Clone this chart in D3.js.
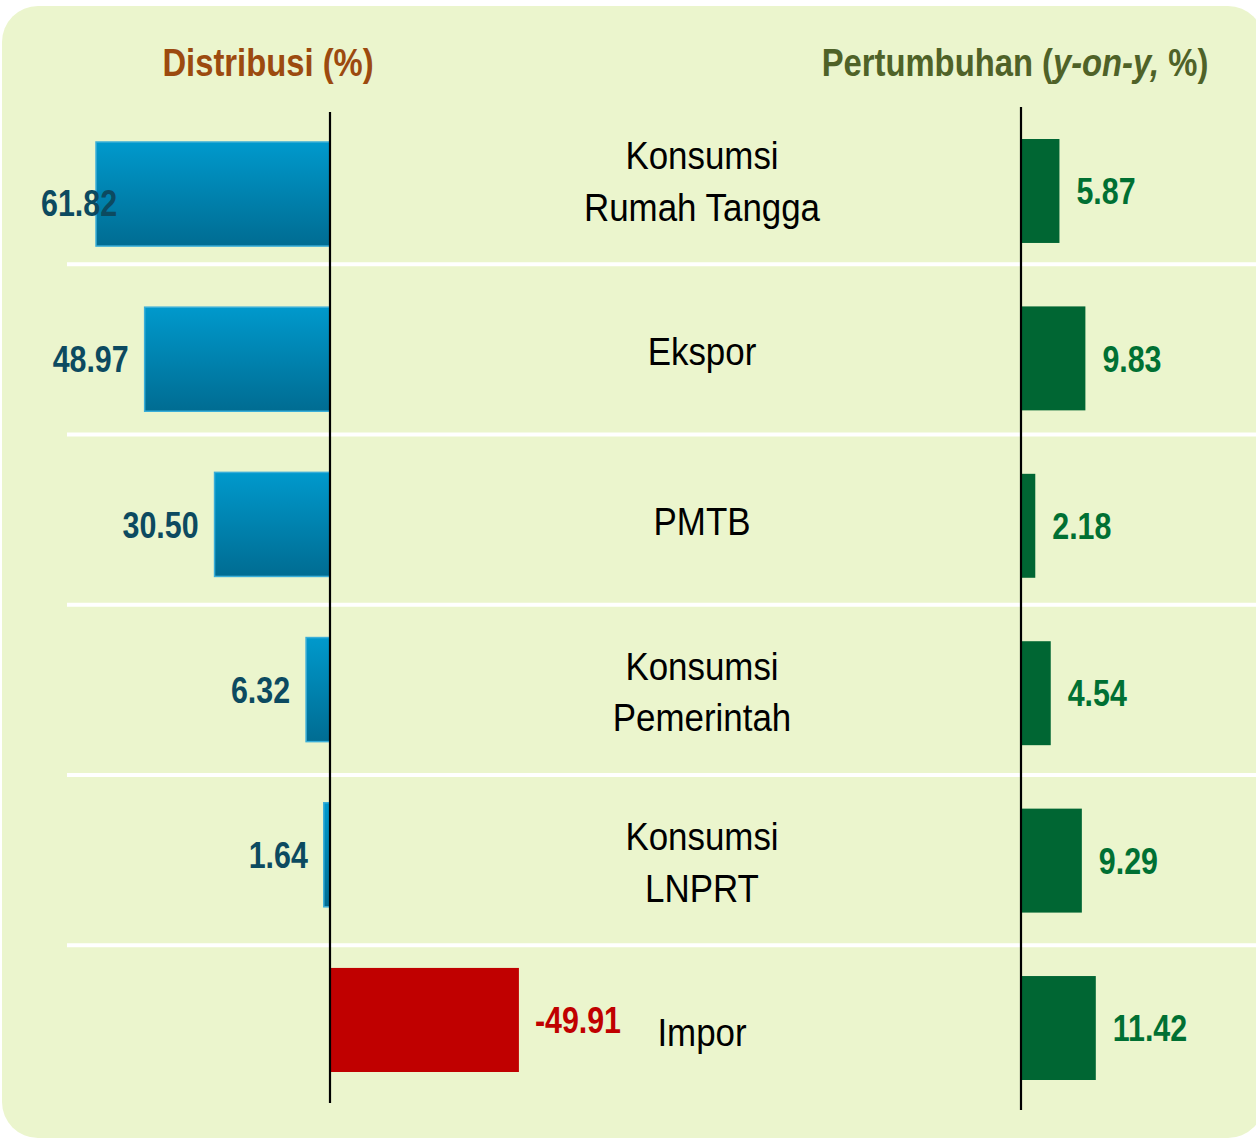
<!DOCTYPE html>
<html>
<head>
<meta charset="utf-8">
<script src="https://cdn.jsdelivr.net/npm/d3@7"></script>
<style>
  body { margin: 0; background: #ffffff; }
  svg { display: block; }
</style>
</head>
<body>
<svg id="chart"></svg>
<script>
// categories (top to bottom) and their values
const categories = ["Konsumsi Rumah Tangga", "Ekspor", "PMTB", "Konsumsi Pemerintah", "Konsumsi LNPRT", "Impor"];
const categoryLines = [["Konsumsi", "Rumah Tangga"], ["Ekspor"], ["PMTB"], ["Konsumsi", "Pemerintah"], ["Konsumsi", "LNPRT"], ["Impor"]];
const distribusi = [61.82, 48.97, 30.50, 6.32, 1.64, -49.91];
const pertumbuhan = [5.87, 9.83, 2.18, 4.54, 9.29, 11.42];
const distribusiLabels = ["61.82", "48.97", "30.50", "6.32", "1.64", "-49.91"];
const pertumbuhanLabels = ["5.87", "9.83", "2.18", "4.54", "9.29", "11.42"];

const width = 1256, height = 1140;
const font = "'Liberation Sans', Arial, sans-serif";
// narrow look: Liberation Sans squeezed horizontally
const numSize = 37.5, numScale = 0.81;
const catSize = 39, catScale = 0.895;
const titleSize = 39.5, titleScale = 0.83;

const svg = d3.select("#chart").attr("width", width).attr("height", height);

// gradient for distribution bars
const defs = svg.append("defs");
const grad = defs.append("linearGradient")
  .attr("id", "blueGrad")
  .attr("x1", 0).attr("y1", 0).attr("x2", 0).attr("y2", 1);
grad.append("stop").attr("offset", "0%").attr("stop-color", "#0099cc");
grad.append("stop").attr("offset", "100%").attr("stop-color", "#006c92");

// panel background
svg.append("rect")
  .attr("x", 2).attr("y", 6)
  .attr("width", 1262).attr("height", 1132)
  .attr("rx", 36).attr("ry", 36)
  .attr("fill", "#ebf5cd");

// scales
const xLeft = d3.scaleLinear().domain([-60, 70]).range([330 + 60 * 3.785, 330 - 70 * 3.785]);
const xRight = d3.scaleLinear().domain([0, 12]).range([1021, 1021 + 12 * 6.55]);

const yRows = d3.scaleBand().domain(categories).range([94, 1115.5]);
const yLeft = d3.scaleBand().domain(categories).range([142, 1072]).paddingInner(0.37);
const yRight = d3.scaleBand().domain(categories).range([139, 1080]).paddingInner(0.379);

function place(x, y, s) {
  return "translate(" + x + "," + y + ") scale(" + s + ",1)";
}

// white row separators
svg.append("g")
  .selectAll("line")
  .data(categories.slice(1))
  .join("line")
  .attr("x1", 67).attr("x2", width)
  .attr("y1", d => yRows(d)).attr("y2", d => yRows(d))
  .attr("stroke", "#ffffff")
  .attr("stroke-width", 4);

// titles
svg.append("text")
  .attr("transform", place(268, 76, titleScale))
  .attr("text-anchor", "middle")
  .attr("font-family", font).attr("font-weight", "bold")
  .attr("font-size", titleSize).attr("fill", "#9c4a0f")
  .text("Distribusi (%)");

const t2 = svg.append("text")
  .attr("transform", place(1015, 76, titleScale))
  .attr("text-anchor", "middle")
  .attr("font-family", font).attr("font-weight", "bold")
  .attr("font-size", titleSize).attr("fill", "#4f6228");
t2.append("tspan").text("Pertumbuhan (");
t2.append("tspan").attr("font-style", "italic").text("y-on-y,");
t2.append("tspan").text(" %)");

const rows = categories.map((c, i) => ({
  cat: c, dist: distribusi[i], growth: pertumbuhan[i],
  distLabel: distribusiLabels[i], growthLabel: pertumbuhanLabels[i], lines: categoryLines[i]
}));

// distribution bars
svg.append("g")
  .selectAll("rect")
  .data(rows)
  .join("rect")
  .attr("x", d => Math.min(xLeft(d.dist), xLeft(0)))
  .attr("y", d => yLeft(d.cat))
  .attr("width", d => Math.abs(xLeft(d.dist) - xLeft(0)))
  .attr("height", yLeft.bandwidth())
  .attr("fill", d => d.dist < 0 ? "#c00000" : "url(#blueGrad)")
  .attr("stroke", d => d.dist < 0 ? "none" : "#3aaed8")
  .attr("stroke-width", 1.5);

// distribution labels
svg.append("g")
  .selectAll("text")
  .data(rows)
  .join("text")
  .attr("font-family", font).attr("font-weight", "bold")
  .attr("font-size", numSize)
  .attr("fill", d => d.dist < 0 ? "#c00000" : "#0c4a60")
  .attr("text-anchor", d => d.dist < 0 ? "start" : "end")
  .attr("dy", "0.35em")
  .text(d => d.distLabel)
  .each(function(d) {
    const y = yLeft(d.cat) + yLeft.bandwidth() / 2;
    let x = d.dist < 0 ? xLeft(d.dist) + 16 : xLeft(d.dist) - 16;
    let dy = 0;
    if (d.dist >= 0) {
      // keep labels inside the panel
      const w = this.getComputedTextLength() * numScale;
      if (x - w < 41) { x = 41 + w; dy = 9; }
    }
    d3.select(this).attr("transform", place(x, y + dy, numScale));
  });

// left axis line
svg.append("line")
  .attr("x1", xLeft(0)).attr("x2", xLeft(0))
  .attr("y1", 112).attr("y2", 1103)
  .attr("stroke", "#000").attr("stroke-width", 2.2);

// growth bars
svg.append("g")
  .selectAll("rect")
  .data(rows)
  .join("rect")
  .attr("x", xRight(0))
  .attr("y", d => yRight(d.cat))
  .attr("width", d => xRight(d.growth) - xRight(0))
  .attr("height", yRight.bandwidth())
  .attr("fill", "#006633");

svg.append("g")
  .selectAll("text")
  .data(rows)
  .join("text")
  .attr("transform", d => place(xRight(d.growth) + 17, yRight(d.cat) + yRight.bandwidth() / 2, numScale))
  .attr("dy", "0.35em")
  .attr("font-family", font).attr("font-weight", "bold")
  .attr("font-size", numSize)
  .attr("fill", "#007033")
  .text(d => d.growthLabel);

// right axis line
svg.append("line")
  .attr("x1", xRight(0)).attr("x2", xRight(0))
  .attr("y1", 107).attr("y2", 1110)
  .attr("stroke", "#000").attr("stroke-width", 2.2);

// category labels in the middle
const catG = svg.append("g")
  .selectAll("text")
  .data(rows)
  .join("text")
  .attr("transform", d => place(702, yRows(d.cat) + yRows.bandwidth() / 2 + 2, catScale))
  .attr("text-anchor", "middle")
  .attr("font-family", font)
  .attr("font-size", catSize)
  .attr("fill", "#000");

catG.selectAll("tspan")
  .data(d => d.lines.map((l, i) => ({ l, i, n: d.lines.length })))
  .join("tspan")
  .attr("x", 0)
  .attr("dy", d => d.i === 0 ? (0.35 - (d.n - 1) * 0.66) + "em" : "1.32em")
  .text(d => d.l);
</script>
</body>
</html>
